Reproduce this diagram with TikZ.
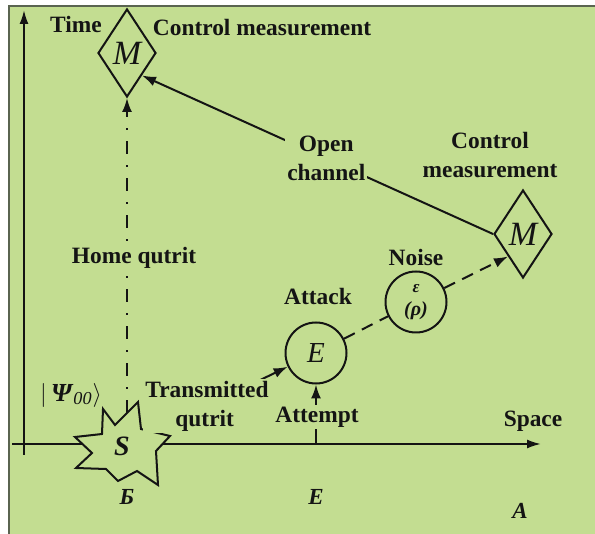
\documentclass[tikz,border=0pt]{standalone}
\usepackage{fontspec}
\setmainfont{Liberation Serif}
\usetikzlibrary{arrows.meta,shapes.geometric}
\definecolor{SheetGreen}{HTML}{C3DD91}
\definecolor{SheetInk}{HTML}{141414}
\definecolor{SheetEdge}{HTML}{5A6450}
\tikzset{
  every node/.style={font=\fontsize{11.7}{14.5}\selectfont\bfseries, text=SheetInk},
  axis/.style={-{Latex[length=7pt,width=4.5pt]}, draw=SheetInk, line width=1pt},
  measure/.style={diamond, draw=SheetInk, line width=1pt, inner sep=0pt, minimum width=29pt, minimum height=44pt, font=\fontsize{17}{17}\selectfont\itshape},
  party/.style={circle, draw=SheetInk, line width=1pt, minimum size=30.5pt, inner sep=0pt},
  channel/.style={-{Latex[length=7pt,width=5pt]}, draw=SheetInk, line width=1pt},
  home/.style={channel, dash pattern=on 6.5pt off 5.5pt on 1pt off 5.5pt},
  noisy/.style={draw=SheetInk, line width=1pt, dash pattern=on 6pt off 4pt},
  cover/.style={fill=SheetGreen, inner sep=1pt},
  place/.style={font=\fontsize{11.5}{13}\selectfont\bfseries\itshape},
}

\begin{document}
\begin{tikzpicture}[x=0.5pt,y=-0.5pt]
  \useasboundingbox (0,0) rectangle (595,534);
  \fill[white] (0,0) rectangle (595,534);
  \filldraw[fill=SheetGreen, draw=SheetEdge, line width=0.6pt] (9,6) rectangle (610,550);
  % Axes: pixel grid, y down
  \draw[axis] (24,455) -- (24,10);
  \draw[axis] (12,444) -- (541,444);
  \node at (76,24) {Time};
  \node at (533,421) {Space};
  % Measurements and parties
  \node[measure] (M1) at (127,53) {M};
  \node[measure] (M2) at (523,234) {M};
  \node[party, font=\fontsize{14.5}{14.5}\selectfont\itshape] (E) at (316,353) {E};
  \node[party, align=center, font=\fontsize{10}{11.5}\selectfont\bfseries\itshape] (N) at (416,302) {{\fontsize{8.5}{8.5}\selectfont ε}\\(ρ)};
  \coordinate (Stop) at (127,413);
  \coordinate (Sout) at (155,431);
  \coordinate (Etick) at (316,444);
  % Connectors
  \draw[home] (Stop) -- (M1.south);
  \draw[channel] (Sout) -- (E);
  \draw[channel] (Etick) -- (E.south);
  \draw[noisy] (E) -- (N);
  \draw[noisy, -{Latex[length=7pt,width=5pt]}] (N) -- (M2.south west);
  \draw[channel] (M2.west) -- node[cover, pos=0.475, align=center] (open) {Open\\channel} (M1.south east);
  % Source S
  \filldraw[draw=SheetInk, line width=1pt, fill=SheetGreen, line join=miter]
    (103,409) -- (115,425) -- (138,402) -- (141,429) -- (170,436) -- (156,451)
    -- (158,485) -- (137,471) -- (118,481) -- (106,469) -- (76,468) -- (92,453)
    -- (75,437) -- (102,434) -- cycle;
  \node[font=\fontsize{14}{14}\selectfont\bfseries\itshape] (S) at (122,446) {S};
  % Labels
  \node (ctop) at (262,28) {Control measurement};
  \node[align=center] (cright) at (490,155) {Control\\measurement};
  \node[cover] (homeq) at (134,258) {Home qutrit};
  \node[cover, align=left] (trans) at (207,406) {Transmitted\\\hspace*{15pt}qutrit};
  \node (attack) at (318,296) {Attack};
  \node (noise) at (416,257) {Noise};
  \node[cover] (attempt) at (317,417) {Attempt};
  \node[font=\fontsize{13}{13}\selectfont] (psi) at (71,395) {{\mdseries$|$}\,\textbf{\textit{Ψ}}\textsubscript{\textit{\mdseries 00}}{\mdseries$\rangle$}};
  \node[place] (lb) at (127,497) {Б};
  \node[place] (le) at (316,497) {E};
  \node[place] (la) at (520,511) {A};
\end{tikzpicture}
\end{document}
